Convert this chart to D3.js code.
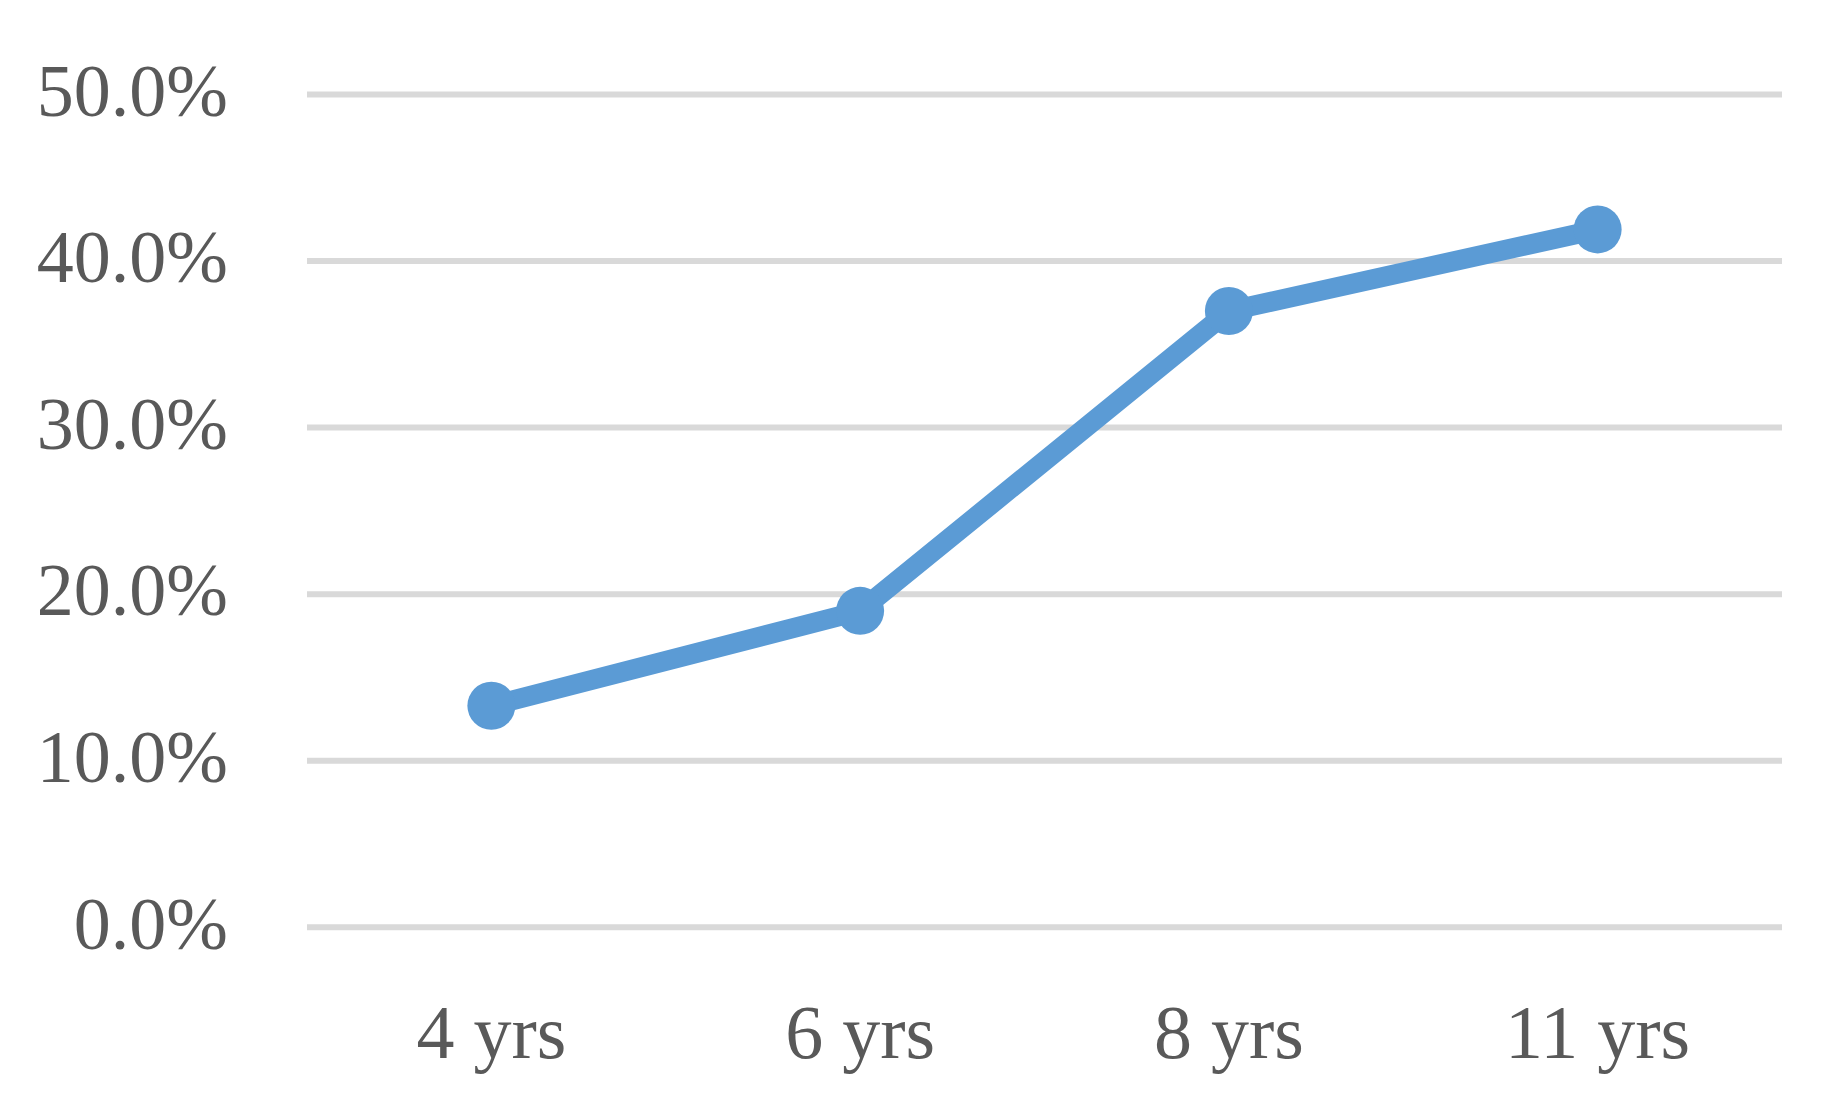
<!DOCTYPE html>
<html>
<head>
<meta charset="utf-8">
<script src="https://cdn.jsdelivr.net/npm/d3@7"></script>
<style>
  html, body { margin: 0; padding: 0; background: #fff; }
  svg { display: block; }
</style>
</head>
<body>
<svg id="chart" width="1834" height="1115"></svg>
<script>
const categories = ["4 yrs", "6 yrs", "8 yrs", "11 yrs"];
const values = [13.3, 19.0, 37.0, 41.9];
const yTicks = [0, 10, 20, 30, 40, 50];
const yTickLabels = ["0.0%", "10.0%", "20.0%", "30.0%", "40.0%", "50.0%"];

(function () {
const svg = d3.select("#chart");
const plotLeft = 307, plotRight = 1782, plotTop = 94.5, plotBottom = 927.3;
const font = "'Liberation Serif', 'Times New Roman', serif";
const textColor = "#595959";

const x = d3.scaleBand().domain(categories).range([plotLeft, plotRight]).padding(0);
const y = d3.scaleLinear().domain([0, 50]).range([plotBottom, plotTop]);

// gridlines
svg.append("g").selectAll("line").data(yTicks).join("line")
  .attr("x1", plotLeft).attr("x2", plotRight)
  .attr("y1", d => y(d)).attr("y2", d => y(d))
  .attr("stroke", "#D9D9D9").attr("stroke-width", 6);

// y axis labels
const yAxis = d3.axisLeft(y).tickValues(yTicks)
  .tickFormat((d, i) => yTickLabels[i]).tickSize(0).tickPadding(0);
const gy = svg.append("g").attr("transform", "translate(228,0)").call(yAxis);
gy.select(".domain").remove();
gy.selectAll("text")
  .attr("font-family", font).attr("font-size", 74).attr("fill", textColor)
  .attr("dy", "0.28em");

// x axis labels
const xAxis = d3.axisBottom(x).tickSize(0).tickPadding(0);
const gx = svg.append("g").attr("transform", "translate(0,1058)").call(xAxis);
gx.select(".domain").remove();
gx.selectAll("text")
  .attr("font-family", font).attr("font-size", 76).attr("fill", textColor)
  .attr("dy", 0).attr("y", 0);

const cx = d => x(d) + x.bandwidth() / 2;
const line = d3.line().x((d, i) => cx(categories[i])).y(d => y(d));

svg.append("path").datum(values)
  .attr("d", line).attr("fill", "none")
  .attr("stroke", "#5B9BD5").attr("stroke-width", 20)
  .attr("stroke-linejoin", "round");

svg.append("g").selectAll("circle").data(values).join("circle")
  .attr("cx", (d, i) => cx(categories[i])).attr("cy", d => y(d))
  .attr("r", 24).attr("fill", "#5B9BD5");
})();
</script>
</body>
</html>
